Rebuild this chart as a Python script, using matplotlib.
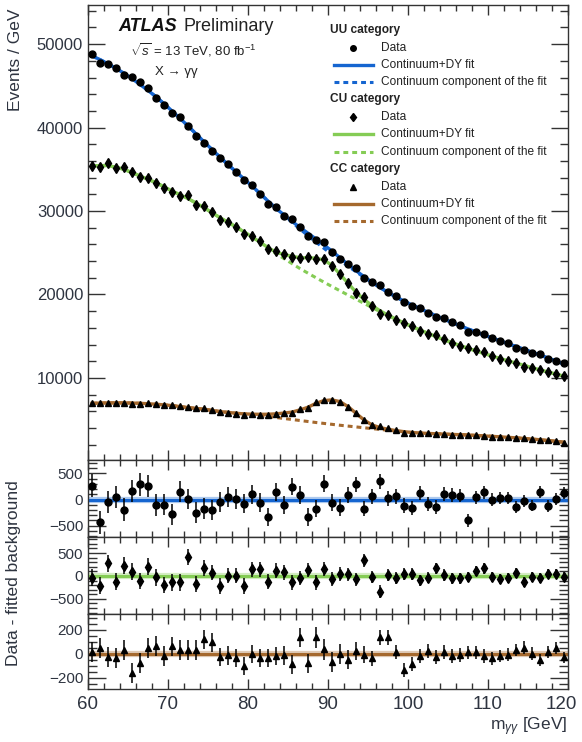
import numpy as np
import matplotlib
matplotlib.use('Agg')
import matplotlib.pyplot as plt
from matplotlib.ticker import MultipleLocator, FormatStrFormatter
from matplotlib.transforms import ScaledTranslation

plt.rcParams['font.family'] = ['Liberation Sans', 'DejaVu Sans']
plt.rcParams['mathtext.fontset'] = 'custom'
plt.rcParams['mathtext.rm'] = 'Liberation Sans'
plt.rcParams['mathtext.it'] = 'Liberation Sans:italic'
plt.rcParams['mathtext.bf'] = 'Liberation Sans:bold'

# m_yy bins, 1 GeV wide between 60 and 120 GeV
mass = np.arange(60, 120) + 0.5

# continuum component of the fit, per category (events / GeV)
uu_cont = [48600, 48150, 47650, 47100, 46520, 45870, 45170, 44450, 43700, 42860,
           42000, 41100, 40200, 39250, 38300, 37380, 36450, 35570, 34700, 33850,
           33000, 32100, 31200, 30320, 29470, 28640, 27830, 27040, 26270, 25520,
           24790, 24080, 23390, 22720, 22070, 21440, 20830, 20250, 19700, 19200,
           18750, 18300, 17870, 17450, 17040, 16640, 16250, 15870, 15500, 15140,
           14790, 14440, 14100, 13760, 13420, 13080, 12740, 12380, 12020, 11650]
cu_cont = [35400, 35450, 35450, 35250, 35000, 34600, 34200, 33800, 33400, 32900,
           32400, 31950, 31500, 30950, 30400, 29800, 29200, 28650, 28100, 27500,
           26900, 26250, 25560, 24900, 24300, 23700, 23100, 22550, 22000, 21470,
           20950, 20440, 19930, 19430, 18930, 18430, 17940, 17470, 17020, 16580,
           16150, 15740, 15340, 14950, 14580, 14220, 13870, 13550, 13230, 12920,
           12620, 12330, 12050, 11780, 11500, 11230, 10960, 10700, 10450, 10200]
cc_cont = [6950, 6980, 7000, 7000, 7000, 6980, 6950, 6900, 6840, 6760,
           6680, 6560, 6440, 6340, 6240, 6100, 5960, 5860, 5760, 5680,
           5590, 5480, 5370, 5250, 5130, 5010, 4890, 4770, 4650, 4540,
           4430, 4320, 4220, 4120, 4020, 3920, 3820, 3720, 3620, 3530,
           3450, 3390, 3340, 3300, 3260, 3220, 3190, 3150, 3100, 3040,
           2990, 2930, 2870, 2810, 2740, 2660, 2580, 2490, 2390, 2280]

# Drell-Yan (Z -> ee) component
uu_dy = [0, 0, 0, 0, 0, 0, 0, 0, 0, 0,
         0, 0, 0, 0, 0, 0, 0, 0, 0, 0,
         0, 0, 0, 0, 60, 120, 200, 300, 380, 420,
         400, 320, 220, 130, 60, 25, 0, 0, 0, 0,
         0, 0, 0, 0, 0, 0, 0, 0, 0, 0,
         0, 0, 0, 0, 0, 0, 0, 0, 0, 0]
cu_dy = [0, 0, 0, 0, 0, 0, 0, 0, 0, 0,
         0, 0, 0, 0, 0, 0, 0, 0, 0, 0,
         0, 20, 60, 170, 480, 880, 1300, 1850, 2350, 2650,
         2550, 1980, 1420, 850, 480, 240, 110, 50, 20, 0,
         0, 0, 0, 0, 0, 0, 0, 0, 0, 0,
         0, 0, 0, 0, 0, 0, 0, 0, 0, 0]
cc_dy = [0, 0, 0, 0, 0, 0, 0, 0, 0, 0,
         0, 0, 0, 0, 0, 0, 0, 0, 0, 0,
         60, 150, 270, 440, 650, 890, 1270, 1710, 2300, 2740,
         2930, 2830, 2340, 1640, 940, 440, 220, 120, 60, 20,
         0, 0, 0, 0, 0, 0, 0, 0, 0, 0,
         0, 0, 0, 0, 0, 0, 0, 0, 0, 0]

# data - fitted background
uu_res = [265, -440, -50, 45, -195, 170, 290, 265, -100, -100,
          -285, 150, 10, -250, -175, -195, -50, 45, 10, -80,
          105, -60, -340, 140, -100, 250, 90, -335, -175, 300,
          -60, -155, 90, 290, -175, 60, 350, 25, 60, -115,
          -165, 120, -90, -145, 100, 90, 75, -400, 40, 140,
          -5, 30, 25, -150, -20, -115, 150, -125, 10, 125]
cu_res = [-35, -210, 275, -125, 220, 95, -110, 200, -30, -195,
          -140, -140, 420, -175, 165, 75, -220, 5, 5, -220,
          150, 150, -125, 115, 80, -140, -45, 130, -140, 150,
          -75, 35, 35, -75, 340, -20, -340, 20, -50, 45,
          45, -95, -35, 165, 20, -50, -50, -20, 110, 165,
          -30, -75, -50, 60, -140, -30, -50, 50, 50, -20]
cc_res = [15, 45, -30, -40, 30, -160, -75, 45, 60, -20,
          60, 30, 30, 30, 120, 95, -30, -15, -35, -105,
          -5, -35, -35, -20, -15, -90, 135, -80, 135, 35,
          -70, -5, -50, 20, -10, -40, 135, 135, 15, -135,
          -90, -20, 20, -30, 15, -20, -10, 10, 10, -20,
          -40, -20, -10, 30, 50, 0, -55, 10, 45, -30]

categories = [
    # name, continuum, dy, residuals, colour, marker, marker size, residual ylim, major, minor
    ('UU', uu_cont, uu_dy, uu_res, '#1565d0', 'o', 5.0, (-720, 760), 500, 100),
    ('CU', cu_cont, cu_dy, cu_res, '#85cc55', 'd', 5.5, (-830, 850), 500, 100),
    ('CC', cc_cont, cc_dy, cc_res, '#a5692e', '^', 5.0, (-295, 330), 200, 50),
]

TXT = '#2e3440'
DASH = (0, (1.6, 1.3))

fig = plt.figure(figsize=(5.82, 7.42), dpi=100)
left, width = 0.1512, 0.8247
ax = fig.add_axes([left, 0.3800, width, 0.6133])
res_axes = [fig.add_axes([left, 0.2763, width, 0.1038]),
            fig.add_axes([left, 0.1725, width, 0.1038]),
            fig.add_axes([left, 0.0714, width, 0.1011])]


def style_axis(a, ymaj, ymin, ylen):
    a.set_xlim(60, 120)
    a.xaxis.set_major_locator(MultipleLocator(10))
    a.xaxis.set_minor_locator(MultipleLocator(2))
    a.yaxis.set_major_locator(MultipleLocator(ymaj))
    a.yaxis.set_minor_locator(MultipleLocator(ymin))
    a.tick_params(which='both', direction='in', top=True, right=True,
                  width=1.0, color='#333333', labelcolor=TXT)
    a.tick_params(axis='y', which='major', length=ylen)
    a.tick_params(axis='y', which='minor', length=ylen * 0.5)
    a.tick_params(axis='x', which='major', length=7)
    a.tick_params(axis='x', which='minor', length=4)
    for s in a.spines.values():
        s.set_linewidth(1.0)
        s.set_color('#333333')


for rax, (name, cont, dy, res, col, mk, ms, ylim, ymaj, ymin) in zip(res_axes, categories):
    cont = np.array(cont, dtype=float)
    fit = cont + np.array(dy, dtype=float)
    data = fit + np.array(res, dtype=float)
    err = np.sqrt(data)

    ax.plot(mass, fit, color=col, lw=2.4, zorder=2)
    ax.plot(mass, cont, color=col, lw=2.2, ls=DASH, zorder=3)
    ax.errorbar(mass, data, yerr=err, fmt=mk, color='black', ms=ms,
                elinewidth=1.1, capsize=0, zorder=5)

    rax.axhline(0, color=col, lw=4.5, alpha=0.35, zorder=1)
    rax.axhline(0, color=col, lw=2.2, zorder=2)
    rax.errorbar(mass, res, yerr=err, fmt=mk, color='black', ms=ms,
                 elinewidth=1.1, capsize=0, zorder=5)
    rax.set_ylim(*ylim)
    style_axis(rax, ymaj, ymin, 13)
    rax.tick_params(axis='y', labelsize=11)
    rax.tick_params(axis='x', labelbottom=False)

ax.set_ylim(150, 54700)
style_axis(ax, 10000, 2000, 12)
ax.yaxis.set_major_formatter(FormatStrFormatter('%d'))
ax.tick_params(axis='y', labelsize=12)
ax.tick_params(axis='x', labelbottom=False)

bax = res_axes[-1]
bax.set_xticks([60, 70, 80, 90, 100, 110, 120])
bax.tick_params(axis='x', labelbottom=True, labelsize=13.5, pad=5)
last = bax.get_xticklabels()[-1]
last.set_transform(last.get_transform() + ScaledTranslation(-5 / 72, 0, fig.dpi_scale_trans))

# ATLAS label
ax.text(0.063, 0.952, 'ATLAS', transform=ax.transAxes, fontsize=13,
        fontweight='bold', fontstyle='italic', va='center', color='#111111')
ax.text(0.198, 0.952, 'Preliminary', transform=ax.transAxes, fontsize=13,
        va='center', color='#222222')
ax.text(0.088, 0.901, r'$\sqrt{s}$ = 13 TeV, 80 fb$^{-1}$', transform=ax.transAxes,
        fontsize=9.5, va='center', color='#222222')
ax.text(0.14, 0.853, 'X → γγ', transform=ax.transAxes,
        fontsize=9.5, va='center', color='#222222')

# legend, built row by row
for k, (name, cont, dy, res, col, mk, ms, *_rest) in enumerate(categories):
    y0 = 0.945 - k * 0.1525
    ax.text(0.505, y0, name + ' category', transform=ax.transAxes, fontsize=8.6,
            fontweight='bold', va='center', color='#222222')
    yd, yf, yc = y0 - 0.039, y0 - 0.077, y0 - 0.115
    ax.plot([0.552], [yd], marker=mk, color='black', ms=ms * 0.8,
            transform=ax.transAxes, clip_on=False)
    ax.plot([0.513, 0.594], [yf, yf], color=col, lw=2.4, transform=ax.transAxes)
    ax.plot([0.513, 0.594], [yc, yc], color=col, lw=2.2, ls=DASH,
            transform=ax.transAxes)
    for yy, label in [(yd, 'Data'), (yf, 'Continuum+DY fit'),
                      (yc, 'Continuum component of the fit')]:
        ax.text(0.61, yy, label, transform=ax.transAxes, fontsize=8.6,
                va='center', color='#222222')

fig.text(0.026, 0.989, 'Events / GeV', rotation=90, ha='center', va='top',
         fontsize=12.5, color=TXT)
fig.text(0.024, 0.228, 'Data - fitted background', rotation=90, ha='center',
         va='center', fontsize=12.5, color=TXT)
fig.text(0.975, 0.020, r'm$_{\gamma\gamma}$ [GeV]', ha='right', va='center',
         fontsize=12.5, color=TXT)

fig.savefig('out.png', dpi=100)
